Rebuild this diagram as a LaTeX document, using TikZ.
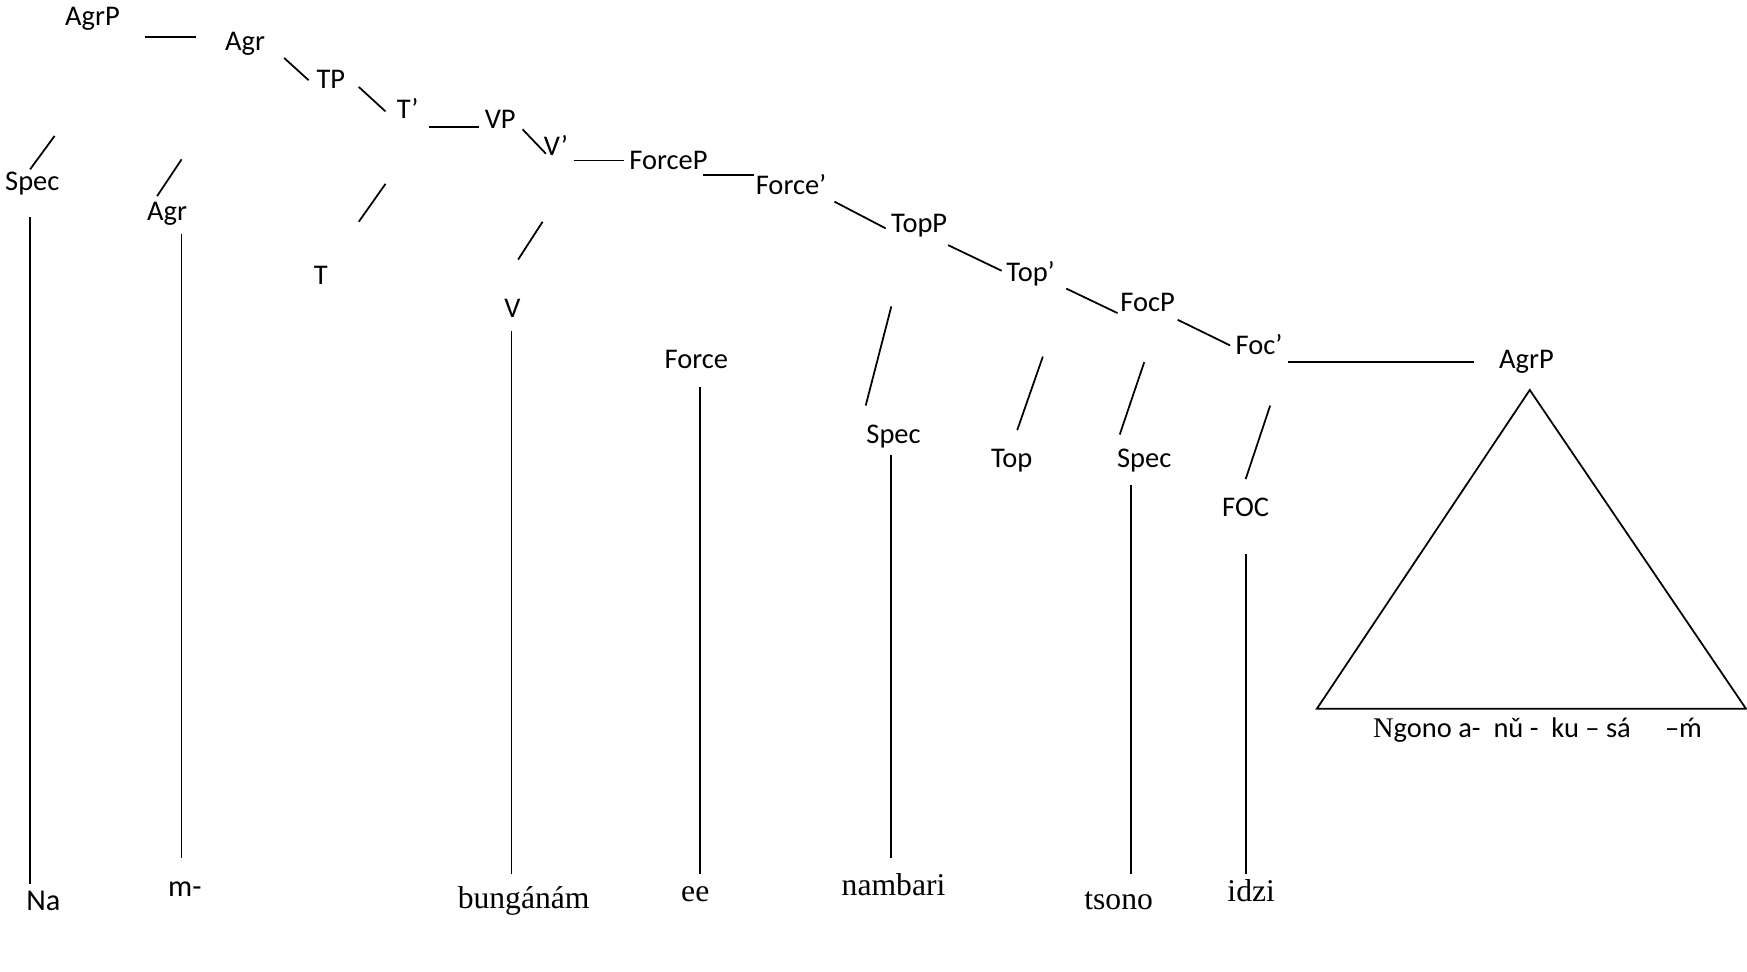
\documentclass[tikz,border=0pt]{standalone}
\usepackage{fontspec}
\setmainfont{Carlito}
\newfontfamily\timesfont{Liberation Serif}

\begin{document}
\begin{tikzpicture}[x=0.011142cm,y=-0.011142cm,
  lab/.style={anchor=base,inner sep=0pt,font=\fontsize{8.1}{10}\selectfont},
  word/.style={anchor=base,inner sep=0pt,font=\timesfont\fontsize{9}{11}\selectfont},
  branch/.style={line width=0.5pt}]
  \useasboundingbox (0,0) rectangle (1568,872);
  % spine of the tree
  \node[lab] (agrp) at (83,23) {AgrP};
  \node[lab] (agr) at (220,45) {Agr};
  \node[lab] (tp) at (297,79) {TP};
  \node[lab] (tbar) at (366,106) {T’};
  \node[lab] (vp) at (449,115) {VP};
  \node[lab] (vbar) at (499,140) {V’};
  \node[lab] (forcep) at (600,152) {ForceP};
  \node[lab] (forcebar) at (710,175) {Force’};
  \node[lab] (topp) at (825,209) {TopP};
  \node[lab] (topbar) at (925,253) {Top’};
  \node[lab] (focp) at (1030,280) {FocP};
  \node[lab] (focbar) at (1130,318) {Foc’};
  \node[lab] (agrpb) at (1370,331) {AgrP};
  % left daughters
  \node[lab] (spec) at (29,171) {Spec};
  \node[lab] (agrh) at (150,198) {Agr};
  \node[lab] (t) at (288,255) {T};
  \node[lab] (v) at (460,285) {V};
  \node[lab] (force) at (625,331) {Force};
  \node[lab] (specb) at (802,398) {Spec};
  \node[lab] (top) at (908,420) {Top};
  \node[lab] (specc) at (1027,420) {Spec};
  \node[lab] (foc) at (1118,464) {FOC};
  % words
  \node[lab,font=\fontsize{8.6}{10}\selectfont] (na) at (39,817) {Na};
  \node[lab,font=\fontsize{8.6}{10}\selectfont] (m) at (166,805) {m-};
  \node[word] (bung) at (470,815) {bungánám};
  \node[word] (ee) at (624,809) {ee};
  \node[word] (nambari) at (802,804) {nambari};
  \node[word] (tsono) at (1004,816) {tsono};
  \node[word] (idzi) at (1123,809) {idzi};
  \node[lab] (ngono) at (1380,662)
    {{\timesfont N}gono a-\ \ nǔ -\ \ ku – sá\hspace{1.2em}–ḿ};

  % spine branches
  \draw[branch] ([shift={(47,10)}]agrp.base) -- ([shift={(-44,-12)}]agr.base);
  \draw[branch] ([shift={(35,7)}]agr.base) -- ([shift={(-20,-7)}]tp.base);
  \draw[branch] ([shift={(25,-1)}]tp.base) -- ([shift={(-20,-6)}]tbar.base);
  \draw[branch] ([shift={(19,8)}]tbar.base) -- ([shift={(-19,-1)}]vp.base);
  \draw[branch] ([shift={(20,1)}]vp.base) -- ([shift={(-9,-2)}]vbar.base);
  \draw[branch] ([shift={(16,4)}]vbar.base) -- ([shift={(-40,-8)}]forcep.base);
  \draw[branch] ([shift={(31,5)}]forcep.base) -- ([shift={(-33,-18)}]forcebar.base);
  \draw[branch] ([shift={(39,6)}]forcebar.base) -- ([shift={(-30,-4)}]topp.base);
  \draw[branch] ([shift={(26,11)}]topp.base) -- ([shift={(-26,-10)}]topbar.base);
  \draw[branch] ([shift={(32,6)}]topbar.base) -- ([shift={(-27,1)}]focp.base);
  \draw[branch] ([shift={(27,7)}]focp.base) -- ([shift={(-26,-8)}]focbar.base);
  \draw[branch] ([shift={(26,7)}]focbar.base) -- ([shift={(-47,-6)}]agrpb.base);

  % branches down to the left daughters
  \draw[branch] ([shift={(-34,99)}]agrp.base) -- ([shift={(-2,-19)}]spec.base);
  \draw[branch] ([shift={(-57,98)}]agr.base) -- ([shift={(-9,-22)}]agrh.base);
  \draw[branch] ([shift={(-20,59)}]tbar.base) -- ([shift={(34,-56)}]t.base);
  \draw[branch] ([shift={(-12,59)}]vbar.base) -- ([shift={(5,-52)}]v.base);
  \draw[branch] ([shift={(-25,66)}]topp.base) -- ([shift={(-25,-34)}]specb.base);
  \draw[branch] ([shift={(11,67)}]topbar.base) -- ([shift={(5,-34)}]top.base);
  \draw[branch] ([shift={(-3,45)}]focp.base) -- ([shift={(-22,-30)}]specc.base);
  \draw[branch] ([shift={(10,46)}]focbar.base) -- ([shift={(0,-34)}]foc.base);

  % vertical lines to the words
  \draw[branch] ([shift={(-2,24)}]spec.base) -- ([shift={(-12,-24)}]na.base);
  \draw[branch] ([shift={(13,12)}]agrh.base) -- ([shift={(-3,-35)}]m.base);
  \draw[branch] ([shift={(-1,12)}]v.base) -- ([shift={(-11,-31)}]bung.base);
  \draw[branch] ([shift={(3,16)}]force.base) -- ([shift={(4,-25)}]ee.base);
  \draw[branch] ([shift={(-2,10)}]specb.base) -- ([shift={(-2,-34)}]nambari.base);
  \draw[branch] ([shift={(-12,15)}]specc.base) -- ([shift={(11,-32)}]tsono.base);
  \draw[branch] ([shift={(0,33)}]foc.base) -- ([shift={(-5,-25)}]idzi.base);

  % triangle under the lower AgrP
  \draw[branch] ([shift={(3,19)}]agrpb.base) -- ([shift={(-198,-26)}]ngono.base)
    -- ([shift={(187,-26)}]ngono.base) -- cycle;
\end{tikzpicture}
\end{document}
